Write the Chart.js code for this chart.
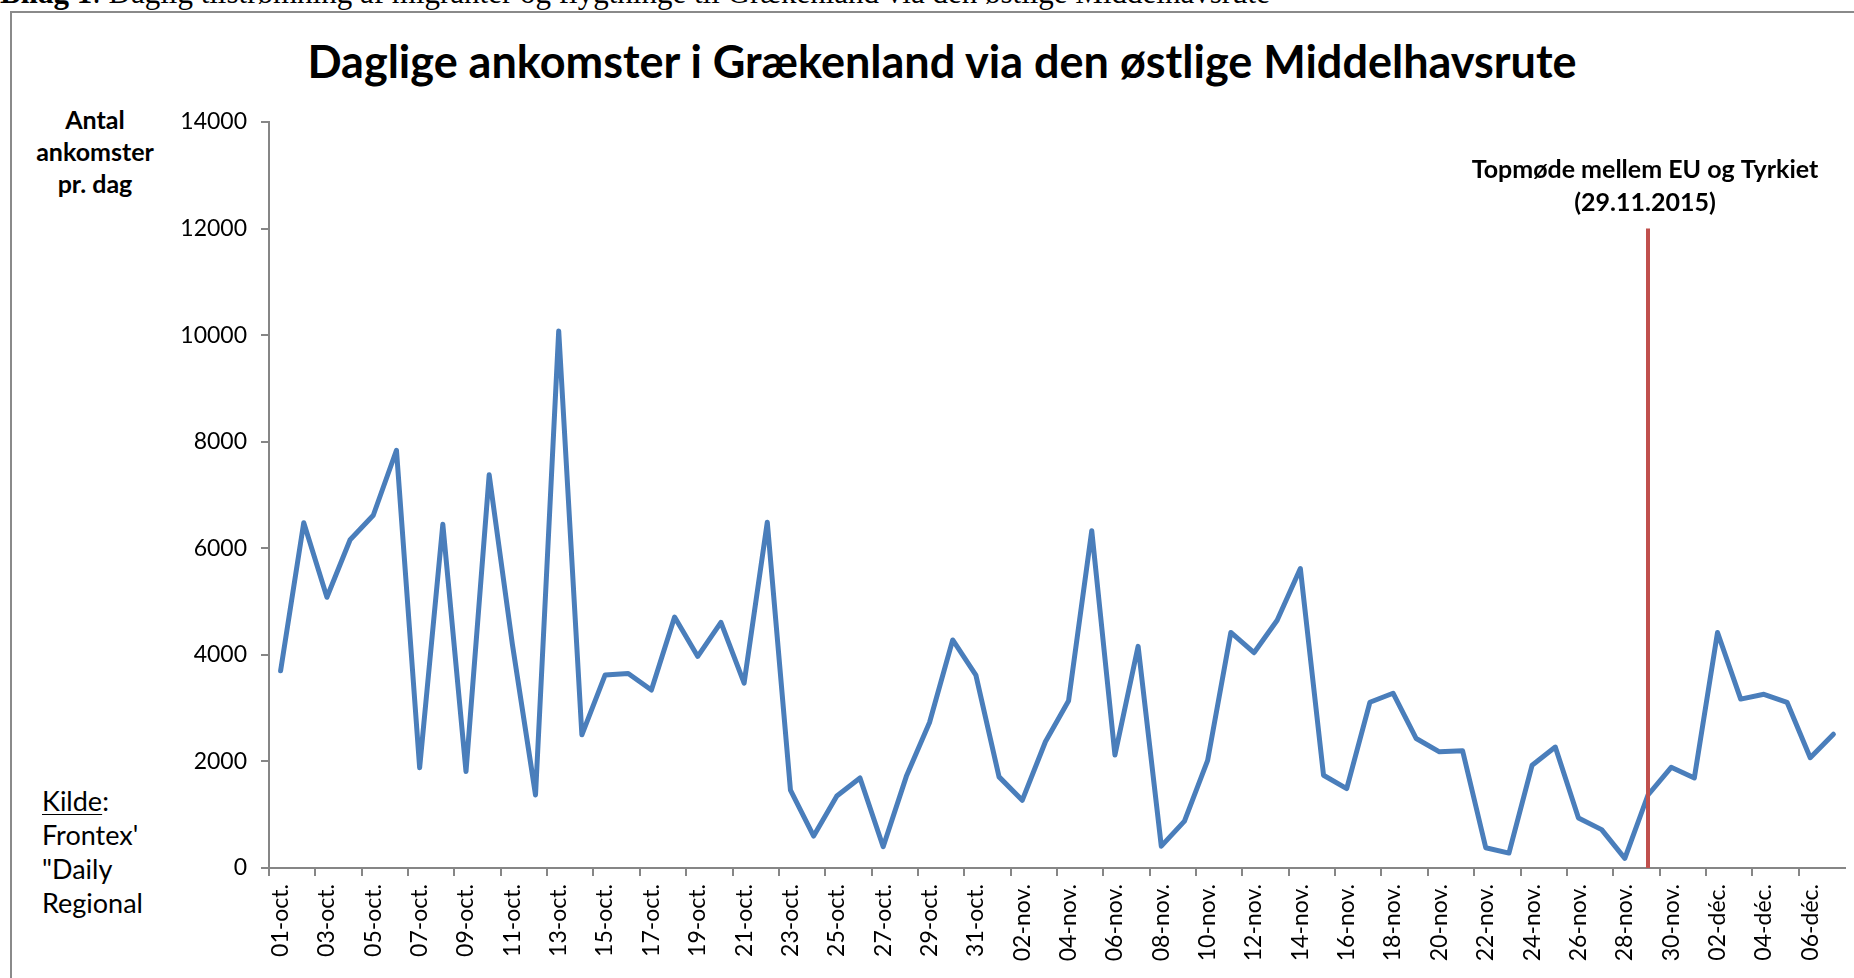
<!DOCTYPE html>
<html lang="da">
<head>
<meta charset="utf-8">
<title>Daglige ankomster i Grækenland</title>
<script src="https://cdn.jsdelivr.net/npm/chart.js@4.4.1/dist/chart.umd.min.js"></script>
<style>
  html, body { margin: 0; padding: 0; background: #fff; overflow: hidden; }
  body { width: 1854px; height: 978px; position: relative; font-family: Lato, "Open Sans", sans-serif; color: #000; }
  #frame { position: absolute; left: 10px; top: 11px; width: 1900px; height: 1000px;
           border-left: 2px solid #8a8a8a; border-top: 2px solid #8a8a8a; }
  #caption { position: absolute; left: 0; top: -23px; font-family: "Liberation Serif", serif;
             font-size: 31px; line-height: 31px; white-space: nowrap; }
  #chartTitle { position: absolute; left: 0; width: 1884px; top: 35px; text-align: center;
                font-weight: bold; font-size: 45px; line-height: 52px; white-space: nowrap; }
  #yTitle { position: absolute; left: 35px; width: 120px; top: 103px; text-align: center;
            font-weight: bold; font-size: 25px; line-height: 32px; }
  #source { position: absolute; left: 42px; top: 784px; font-size: 27px; line-height: 34px; }
  #source u { text-decoration-thickness: 1px; text-underline-offset: 3px; }
  canvas { position: absolute; left: 0; top: 0; }
</style>
</head>
<body>
<div id="caption"><b>Bilag 1</b>: Daglig tilstrømning af migranter og flygtninge til Grækenland via den østlige Middelhavsrute</div>
<div id="frame"></div>
<div id="chartTitle">Daglige ankomster i Grækenland via den østlige Middelhavsrute</div>
<div id="yTitle">Antal<br>ankomster<br>pr. dag</div>
<div id="source"><u>Kilde</u>:<br>Frontex'<br>"Daily<br>Regional</div>
<canvas id="arrivalsChart" width="1854" height="978"></canvas>

<script>
const days = [
  '01-oct.', '02-oct.', '03-oct.', '04-oct.', '05-oct.', '06-oct.', '07-oct.', '08-oct.',
  '09-oct.', '10-oct.', '11-oct.', '12-oct.', '13-oct.', '14-oct.', '15-oct.', '16-oct.',
  '17-oct.', '18-oct.', '19-oct.', '20-oct.', '21-oct.', '22-oct.', '23-oct.', '24-oct.',
  '25-oct.', '26-oct.', '27-oct.', '28-oct.', '29-oct.', '30-oct.', '31-oct.',
  '01-nov.', '02-nov.', '03-nov.', '04-nov.', '05-nov.', '06-nov.', '07-nov.', '08-nov.',
  '09-nov.', '10-nov.', '11-nov.', '12-nov.', '13-nov.', '14-nov.', '15-nov.', '16-nov.',
  '17-nov.', '18-nov.', '19-nov.', '20-nov.', '21-nov.', '22-nov.', '23-nov.', '24-nov.',
  '25-nov.', '26-nov.', '27-nov.', '28-nov.', '29-nov.', '30-nov.',
  '01-déc.', '02-déc.', '03-déc.', '04-déc.', '05-déc.', '06-déc.', '07-déc.'
];

// daily arrivals
const arrivals = [
  3700, 6480, 5080, 6160, 6620, 7840, 1880, 6450,
  1810, 7380, 4200, 1370, 10080, 2500, 3620, 3650,
  3340, 4710, 3970, 4610, 3470, 6490, 1460, 600,
  1350, 1690, 400, 1720, 2730, 4280, 3620,
  1710, 1270, 2370, 3140, 6330, 2120, 4160, 410,
  880, 2020, 4420, 4040, 4650, 5620, 1740, 1490,
  3110, 3280, 2430, 2180, 2200, 380, 280, 1930,
  2270, 940, 720, 180, 1370, 1890,
  1690, 4420, 3170, 3260, 3110, 2070, 2510
];

const yTicks = [0, 2000, 4000, 6000, 8000, 10000, 12000, 14000];

const summitDay = '29-nov.';
const summitTop = 12000;
const summitNote = ['Topmøde mellem EU og Tyrkiet', '(29.11.2015)'];

const axisGrey = '#868686';

// red marker line + note for the EU-Turkey summit
const summitLine = {
  id: 'summitLine',
  afterDatasetsDraw(chart) {
    const { ctx, scales: { x, y } } = chart;
    const px = x.getPixelForValue(days.indexOf(summitDay));
    const top = y.getPixelForValue(summitTop);
    ctx.save();
    ctx.strokeStyle = '#C0504D';
    ctx.lineWidth = 4;
    ctx.beginPath();
    ctx.moveTo(px, y.getPixelForValue(0));
    ctx.lineTo(px, top);
    ctx.stroke();

    ctx.fillStyle = '#000';
    ctx.font = 'bold 25px Lato';
    ctx.textAlign = 'center';
    ctx.textBaseline = 'middle';
    summitNote.forEach((line, i) => ctx.fillText(line, px - 3, top - 59 + i * 33));
    ctx.restore();
  }
};

const ctx = document.getElementById('arrivalsChart');

new Chart(ctx, {
  type: 'line',
  data: {
    labels: days,
    datasets: [{
      data: arrivals,
      borderColor: '#4A7EBB',
      borderWidth: 5,
      pointRadius: 0,
      tension: 0,
      borderJoinStyle: 'round',
      borderCapStyle: 'round'
    }]
  },
  options: {
    responsive: false,
    animation: false,
    devicePixelRatio: 1,
    layout: { padding: { left: 0, right: 9, top: 122, bottom: 0 } },
    plugins: {
      legend: { display: false },
      tooltip: { enabled: false }
    },
    scales: {
      x: {
        offset: true,
        grid: {
          offset: true,
          drawOnChartArea: false,
          tickLength: 8,
          lineWidth: 2,
          color: c => (c.index % 2 === 0 ? axisGrey : 'rgba(0,0,0,0)')
        },
        border: { color: axisGrey, width: 2 },
        ticks: {
          autoSkip: false,
          minRotation: 90,
          maxRotation: 90,
          padding: 8,
          color: '#000',
          font: { family: 'Lato', size: 23 },
          callback: (v, i) => (i % 2 === 0 ? days[i] : '')
        },
        afterFit: s => {
          s.height = 110;
          s.paddingLeft = 0;
          s.paddingRight = 0;
        }
      },
      y: {
        min: 0,
        max: 14000,
        afterBuildTicks: s => { s.ticks = yTicks.map(v => ({ value: v })); },
        grid: { drawOnChartArea: false, tickLength: 8, lineWidth: 2, color: axisGrey },
        border: { color: axisGrey, width: 2 },
        ticks: {
          padding: 14,
          color: '#000',
          font: { family: 'Lato', size: 23 },
          callback: v => String(v)
        },
        afterFit: s => { s.width = 269; }
      }
    }
  },
  plugins: [summitLine]
});
</script>
</body>
</html>
